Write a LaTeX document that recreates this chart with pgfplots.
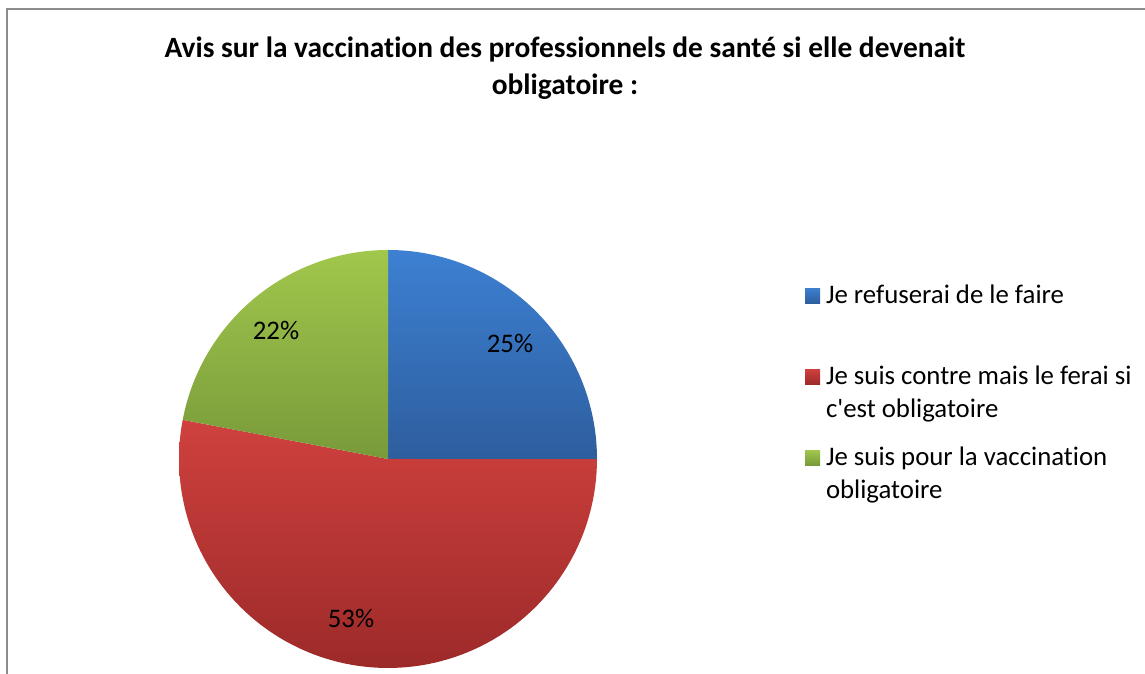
\documentclass[border=0pt]{standalone}
\usepackage{pgfplots}
\pgfplotsset{compat=1.18}
\usepackage{pgfplotstable}
\usepackage{fontspec}
\setmainfont{Carlito}[Ligatures={NoCommon}]

\definecolor{bTop}{HTML}{3D80D2}
\definecolor{bBot}{HTML}{2D5E9E}
\definecolor{rTop}{HTML}{CF413E}
\definecolor{rBot}{HTML}{9C2A29}
\definecolor{gTop}{HTML}{A1C74C}
\definecolor{gBot}{HTML}{789A3A}
\definecolor{frame}{HTML}{8C8C8C}

\pgfplotstableread{
label value
refuse 25
contre 53
pour 22
}\piedata
\pgfplotstablegetelem{0}{value}\of\piedata\let\vA\pgfplotsretval
\pgfplotstablegetelem{1}{value}\of\piedata\let\vB\pgfplotsretval
\pgfplotstablegetelem{2}{value}\of\piedata\let\vC\pgfplotsretval
\pgfmathsetmacro\aA{90}
\pgfmathsetmacro\aB{\aA-3.6*\vA}
\pgfmathsetmacro\aC{\aB-3.6*\vB}
\pgfmathsetmacro\aD{\aC-3.6*\vC}
\def\cx{388}\def\cy{215}\def\R{209}

\begin{document}%
\begin{tikzpicture}
\begin{axis}[
  scale only axis, width=572.5pt, height=337pt,
  xmin=0, xmax=1145, ymin=0, ymax=674,
  hide axis, clip=false,
  legend image code/.code={\fill[#1] (0pt,0pt) rectangle (7.5pt,7.5pt);},
  legend style={draw=none, fill=none, inner sep=0pt, outer sep=0pt,
    at={(axis cs:805,394)}, anchor=north west,
    font=\fontsize{13.4}{16.5}\selectfont,
    row sep=0pt, column sep=3pt,
    nodes={inner sep=0pt, anchor=base west, text height=11.55pt, text depth=4.95pt}},
]
\addplot[draw=none, top color=bTop, bottom color=bBot, domain=\aB:\aA, samples=100, variable=\t]
  ({\cx+\R*cos(\t)}, {\cy+\R*sin(\t)}) -- (axis cs:\cx,\cy) -- cycle;
\addlegendentry{Je refuserai de le faire}
\addlegendimage{empty legend}
\addlegendentry[text depth=12.45pt]{}
\addplot[draw=none, top color=rTop, bottom color=rBot, domain=\aC:\aB, samples=100, variable=\t]
  ({\cx+\R*cos(\t)}, {\cy+\R*sin(\t)}) -- (axis cs:\cx,\cy) -- cycle;
\addlegendentry{Je suis contre mais le ferai si}
\addlegendimage{empty legend}
\addlegendentry[text depth=12.45pt]{c\textquotesingle est obligatoire}
\addplot[draw=none, top color=gTop, bottom color=gBot, domain=\aD:\aC, samples=100, variable=\t]
  ({\cx+\R*cos(\t)}, {\cy+\R*sin(\t)}) -- (axis cs:\cx,\cy) -- cycle;
\addlegendentry{Je suis pour la vaccination}
\addlegendimage{empty legend}
\addlegendentry{obligatoire}

\node[font=\fontsize{13.4}{16}\selectfont] at (axis cs:510,331) {25\%};
\node[font=\fontsize{13.4}{16}\selectfont] at (axis cs:276,344) {22\%};
\node[font=\fontsize{13.4}{16}\selectfont] at (axis cs:351,56) {53\%};

\node[font=\bfseries\fontsize{14.7}{18.5}\selectfont, anchor=base] at (axis cs:565,616) {Avis sur la vaccination des professionnels de santé si elle devenait};
\node[font=\bfseries\fontsize{14.7}{18.5}\selectfont, anchor=base] at (axis cs:565,579) {obligatoire :};

\draw[frame, line width=0.8pt] (axis cs:7,0) -- (axis cs:7,665) -- (axis cs:1145,665);
\end{axis}
\pgfresetboundingbox
\path[use as bounding box] (0,0) rectangle (572.5pt,337pt);
\end{tikzpicture}%
\end{document}
